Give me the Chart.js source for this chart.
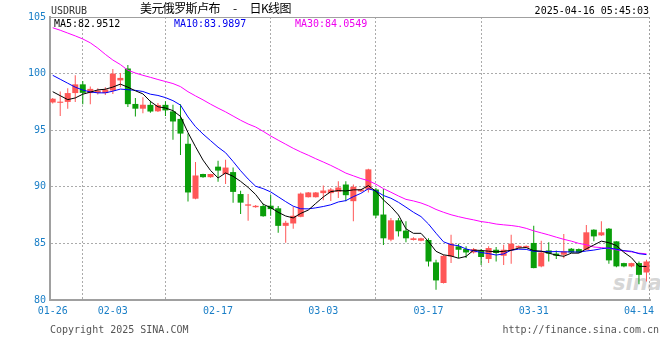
<!DOCTYPE html>
<html><head><meta charset="utf-8">
<script src="https://cdn.jsdelivr.net/npm/chart.js@4.4.1/dist/chart.umd.min.js"></script>
<style>
html,body{margin:0;padding:0;background:#fff;}
#wrap{position:relative;width:660px;height:360px;overflow:hidden;font-family:"DejaVu Sans Mono",monospace;}
#c{position:absolute;left:0;top:0;}
.t{position:absolute;white-space:nowrap;font-size:10px;line-height:12px;font-family:"DejaVu Sans Mono",monospace;}
</style></head><body>
<div id="wrap">
<div class="t" style="left:613px;top:271px;font:italic bold 21px/24px 'DejaVu Sans',sans-serif;color:#d6d6d6;">sina</div>
<canvas id="c" width="660" height="360"></canvas>
<div class="t" style="left:51px;top:5px;color:#333;">USDRUB</div>
<div class="t" style="left:140px;top:1px;font:12px/14px 'Noto Sans CJK SC',sans-serif;letter-spacing:-0.6px;word-spacing:11px;color:#000;">美元俄罗斯卢布 - 日K线图</div>
<div class="t" style="right:11px;top:5px;color:#000;">2025-04-16 05:45:03</div>
<div class="t" id="ma5t" style="left:54px;top:18px;color:#000;"></div>
<div class="t" id="ma10t" style="left:174px;top:18px;color:#0000ee;"></div>
<div class="t" id="ma30t" style="left:295px;top:18px;color:#ee00ee;"></div>
<div class="t" style="left:50px;top:324px;color:#555;">Copyright 2025 SINA.COM</div>
<div class="t" style="right:1px;top:324px;color:#555;">http://finance.sina.com.cn</div>
</div>
<script>
const dates = ['01-26','01-27','01-28','01-29','01-30','01-31',
'02-01','02-02','02-03','02-04','02-05','02-06','02-07','02-08','02-09','02-10','02-11','02-12','02-13','02-14',
'02-15','02-16','02-17','02-18','02-19','02-20','02-21','02-22','02-23','02-24','02-25','02-26','02-27','02-28',
'03-01','03-02','03-03','03-04','03-05','03-06','03-07','03-08','03-09','03-10','03-11','03-12','03-13','03-14',
'03-15','03-16','03-17','03-18','03-19','03-20','03-21','03-22','03-23','03-24','03-25','03-26','03-27','03-28',
'03-29','03-30','03-31',
'04-01','04-02','04-03','04-04','04-05','04-06','04-07','04-08','04-09','04-10','04-11','04-12','04-13','04-14','04-15'];
const tickLabels = ['01-26','02-03','02-17','03-03','03-17','03-31','04-14'];
const yTicks = [80,85,90,95,100,105];

const opens = [97.45,97.42,97.5,98.28,99.05,98.28,98.3,98.28,98.5,99.4,
100.45,97.32,96.9,97.24,96.67,97.24,96.66,96.0,93.8,88.95,
91.13,90.85,91.78,91.13,91.3,89.36,88.33,88.2,88.3,88.33,
88.1,86.55,86.76,87.35,89.08,89.08,89.44,89.44,89.56,90.2,
88.73,89.6,89.75,89.76,87.55,85.33,87.04,86.13,85.3,85.24,
85.3,83.32,81.5,83.85,84.74,84.5,84.2,84.35,83.62,84.44,
83.91,84.39,84.62,84.62,85.04,82.97,84.38,84.1,84.0,84.53,
84.5,84.44,86.21,85.71,86.3,85.18,83.26,82.97,83.26,82.43];
const highs = [97.85,98.42,98.7,99.85,99.35,98.85,98.7,98.8,100.4,100.05,
100.75,97.85,97.9,97.6,97.4,97.55,97.25,97.3,94.7,92.2,
91.15,91.15,92.3,92.4,91.7,89.66,89.36,88.4,88.5,89.27,
88.3,87.0,88.24,89.5,89.55,89.55,90.12,89.9,90.5,90.5,
90.2,89.8,91.6,89.9,89.8,87.25,87.25,86.96,85.55,85.5,
85.45,83.56,84.0,85.77,84.98,84.74,84.6,84.5,84.74,84.68,
84.89,85.77,84.82,84.82,86.57,85.24,85.1,84.38,85.83,84.6,
84.55,86.63,86.25,86.96,86.35,85.2,83.3,83.3,83.4,83.56];
const lows = [97.35,96.25,96.9,97.5,97.3,97.3,98.15,98.1,98.2,98.8,
97.05,96.2,96.5,96.55,96.6,96.25,94.15,92.8,88.7,88.9,
90.8,90.8,90.45,90.25,88.6,87.6,87.0,88.15,87.35,87.45,
85.95,85.05,86.3,87.3,89.05,89.05,88.82,88.75,89.0,88.73,
86.95,89.55,89.5,87.25,84.86,85.2,85.6,85.1,85.25,85.2,
82.97,80.9,81.45,83.26,83.7,83.7,84.1,83.1,83.26,83.4,
83.1,83.2,84.6,84.6,82.8,82.9,83.4,83.62,83.68,84.15,
84.15,84.4,85.18,85.65,83.2,82.9,82.9,82.9,81.4,81.64];
const closes = [97.78,97.52,98.28,99.05,98.3,98.65,98.5,98.6,100.0,99.62,
97.3,96.9,97.25,96.65,97.23,96.75,95.77,94.7,89.5,91.0,
90.85,91.13,91.43,91.7,89.55,88.6,88.45,88.32,87.4,88.03,
86.55,86.82,87.44,89.4,89.5,89.5,89.67,89.76,89.94,89.26,
90.0,89.76,91.54,87.46,85.45,87.04,86.07,85.45,85.45,85.45,
83.4,81.73,83.9,84.98,84.44,84.2,84.5,83.8,84.59,84.15,
84.44,84.98,84.78,84.78,82.82,84.2,84.1,83.91,84.29,84.2,
84.2,85.98,85.62,85.98,83.5,82.97,82.97,83.26,82.22,83.4];

const ma5 = [98.4,98.05,97.7,97.85,98.18,98.36,98.56,98.62,98.81,99.07,
98.80,98.48,98.21,97.54,97.07,96.96,96.73,96.22,94.79,93.54,
92.36,91.44,90.78,91.22,90.93,90.48,89.95,89.32,88.46,88.16,
87.75,87.42,87.25,87.65,87.94,88.53,89.10,89.57,89.67,89.63,
89.73,89.74,90.10,89.60,88.84,88.25,87.51,86.29,85.89,85.89,
85.16,84.30,83.99,83.89,83.69,83.85,84.40,84.38,84.31,84.25,
84.30,84.39,84.59,84.63,84.36,84.31,84.14,83.96,83.86,84.14,
84.14,84.52,84.86,85.20,85.06,84.81,84.21,83.74,82.98,82.96];
const ma10 = [99.85,99.5,99.15,98.8,98.55,98.38,98.3,98.3,98.45,98.63,
98.58,98.52,98.42,98.18,98.07,97.88,97.61,97.22,96.17,95.31,
94.66,94.08,93.50,93.01,92.24,91.42,90.69,90.05,89.84,89.55,
89.12,88.69,88.29,88.06,88.05,88.14,88.26,88.41,88.66,88.78,
89.13,89.42,89.83,89.64,89.23,88.99,88.63,88.20,87.75,87.37,
86.71,85.90,85.14,84.89,84.79,84.51,84.35,84.19,84.10,83.97,
84.07,84.40,84.49,84.47,84.30,84.30,84.26,84.28,84.25,84.25,
84.23,84.33,84.41,84.53,84.60,84.48,84.36,84.30,84.09,84.01];
const ma30 = [104.05,103.83,103.58,103.33,103.06,102.72,102.25,101.7,101.2,100.8,
100.3,100.05,99.85,99.67,99.48,99.3,99.12,98.85,98.4,98.03,
97.68,97.3,96.95,96.62,96.25,95.88,95.55,95.28,94.9,94.49,
94.12,93.76,93.40,93.08,92.79,92.48,92.19,91.89,91.56,91.21,
90.97,90.73,90.54,90.23,89.84,89.52,89.19,88.89,88.75,88.57,
88.32,88.00,87.75,87.53,87.36,87.21,87.08,86.93,86.84,86.71,
86.64,86.58,86.49,86.33,86.11,85.93,85.75,85.55,85.36,85.20,
85.00,84.88,84.68,84.63,84.56,84.43,84.33,84.25,84.14,84.08];
const maLabels = ['MA5:82.9512','MA10:83.9897','MA30:84.0549'];

document.getElementById('ma5t').textContent = maLabels[0];
document.getElementById('ma10t').textContent = maLabels[1];
document.getElementById('ma30t').textContent = maLabels[2];

const RED = '#ff5757', GREEN = '#0a9e0a', BLUE = '#1a7fc7', GRID = '#ababab', AXIS = '#a0a0a0';
const candleColors = closes.map((c,i) => c >= opens[i] ? RED : GREEN);
const xy = arr => arr.map((v,i) => ({x:i, y:v}));

const framePlugin = {
  id: 'frame',
  beforeDatasetsDraw(chart) {
    const {ctx, chartArea: a} = chart;
    ctx.save();
    ctx.strokeStyle = AXIS;
    ctx.lineWidth = 1;
    ctx.beginPath(); ctx.moveTo(a.left, a.top + 0.5); ctx.lineTo(a.right, a.top + 0.5); ctx.stroke();
    ctx.setLineDash([2,2]);
    ctx.beginPath(); ctx.moveTo(a.right - 0.5, a.top); ctx.lineTo(a.right - 0.5, a.bottom); ctx.stroke();
    ctx.restore();
  }
};

const font = {family:'DejaVu Sans Mono', size:10};
new Chart(document.getElementById('c'), {
  type: 'bar',
  data: { datasets: [
    {type:'line', label:'MA5', data: xy(ma5), borderColor:'#000000', borderWidth:1, pointRadius:0, tension:0, order:0, clip:0},
    {type:'line', label:'MA10', data: xy(ma10), borderColor:'#0000ff', borderWidth:1, pointRadius:0, tension:0, order:0, clip:0},
    {type:'line', label:'MA30', data: xy(ma30), borderColor:'#ff00ff', borderWidth:1, pointRadius:0, tension:0, order:0, clip:0},
    {type:'bar', label:'wick', data: lows.map((l,i) => ({x:i, y:[l, highs[i]]})), backgroundColor: candleColors,
      barThickness:1, grouped:false, order:2, clip:0, borderWidth:0, inflateAmount:0},
    {type:'bar', label:'body', data: opens.map((o,i) => ({x:i, y:[o, closes[i]]})), backgroundColor: candleColors,
      barThickness:6, grouped:false, order:1, clip:0, borderWidth:0, inflateAmount:0}
  ]},
  options: {
    responsive:false, animation:false, events:[], devicePixelRatio:1,
    layout:{padding:{left:0, right:10, top:17, bottom:0}},
    plugins:{legend:{display:false}, tooltip:{enabled:false}},
    scales:{
      x:{type:'linear', min:-0.36, max:79.47, offset:false,
        afterBuildTicks: s => { s.ticks = tickLabels.map(l => ({value: dates.indexOf(l)})); },
        afterFit: s => { s.height = 60; },
        ticks:{callback: v => dates[v], autoSkip:false, maxRotation:0, minRotation:0, color:BLUE, font, padding:5},
        grid:{drawTicks:false, lineWidth:1,
          color: c => (c.tick && (c.tick.value === 0 || c.tick.value === 78)) ? 'rgba(0,0,0,0)' : GRID},
        border:{color:AXIS, width:2, dash:[2,2]}},
      y:{type:'linear', min:yTicks[0], max:yTicks[yTicks.length-1],
        afterBuildTicks: s => { s.ticks = yTicks.map(v => ({value:v})); },
        afterFit: s => { s.width = 50; },
        ticks:{color:BLUE, font, padding:4},
        grid:{drawTicks:false, lineWidth:1,
          color: c => (c.tick && (c.tick.value === 80 || c.tick.value === 105)) ? 'rgba(0,0,0,0)' : GRID},
        border:{color:AXIS, width:2, dash:[2,2]}}
    }
  },
  plugins:[framePlugin]
});
</script>
</body></html>
